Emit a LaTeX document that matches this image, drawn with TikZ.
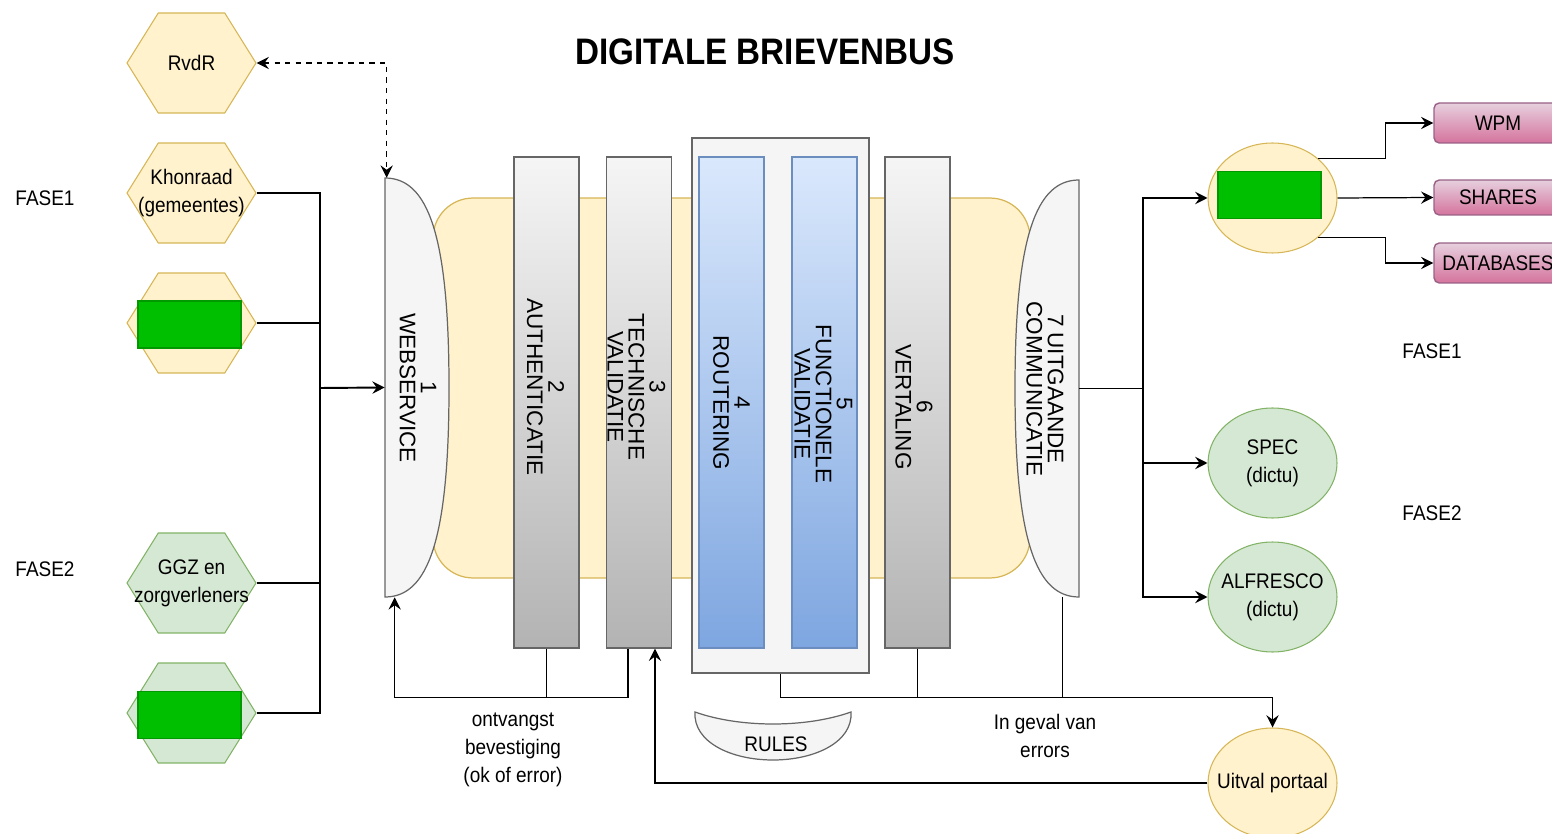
\documentclass[tikz,border=0pt]{standalone}
\usepackage{fontspec}
\setmainfont{Liberation Sans}[FakeStretch=0.9]
\newfontfamily\rotfont{Liberation Sans}
\usetikzlibrary{arrows.meta,shapes.geometric,shapes.symbols}

\newcommand{\normtext}{\fontsize{12}{16}\selectfont}
\newcommand{\coltext}{\rotfont\fontsize{12.8}{12}\selectfont}

\definecolor{yelfill}{HTML}{FFF2CC}
\definecolor{yeldraw}{HTML}{D6B656}
\definecolor{grnfill}{HTML}{D5E8D4}
\definecolor{grndraw}{HTML}{82B366}
\definecolor{gryfill}{HTML}{F5F5F5}
\definecolor{grydark}{HTML}{B3B3B3}
\definecolor{grydraw}{HTML}{666666}
\definecolor{blutop}{HTML}{DAE8FC}
\definecolor{blubot}{HTML}{7EA6E0}
\definecolor{bludraw}{HTML}{6C8EBF}
\definecolor{pnktop}{HTML}{E6D0DE}
\definecolor{pnkbot}{HTML}{D5739D}
\definecolor{pnkdraw}{HTML}{996185}
\definecolor{okgreen}{HTML}{00BF00}
\definecolor{okdraw}{HTML}{009900}

\tikzset{hexnode/.style = {shape = signal,
                           signal to = east and west,
                           signal pointer angle = 116,
                           minimum width = 2.58cm,
                           minimum height = 2cm,
                           inner sep = 0pt,
                           line width = 0.6pt},
         hexyel/.style = {hexnode, fill = yelfill, draw = yeldraw},
         hexgrn/.style = {hexnode, fill = grnfill, draw = grndraw},
         inside/.style = {label = {[plain]center:#1}},
         okrect/.style = {rectangle,
                          fill = okgreen,
                          draw = okdraw,
                          minimum width = 2.06cm,
                          minimum height = 0.94cm,
                          line width = 0.8pt},
         colbox/.style = {rectangle,
                          draw = grydraw,
                          top color = gryfill,
                          bottom color = grydark,
                          minimum width = 1.3cm,
                          minimum height = 9.82cm,
                          line width = 0.8pt},
         blubox/.style = {colbox, draw = bludraw, top color = blutop, bottom color = blubot},
         rottext/.style = {rotate = -90,
                           align = center,
                           inner sep = 0pt,
                           font = \coltext},
         oval/.style = {ellipse,
                        minimum width = 2.58cm,
                        minimum height = 2.2cm,
                        inner sep = 0pt,
                        line width = 0.6pt},
         pinkbox/.style = {rectangle,
                           rounded corners = 3pt,
                           draw = pnkdraw,
                           top color = pnktop,
                           bottom color = pnkbot,
                           minimum width = 2.56cm,
                           minimum height = 0.8cm,
                           font = \normtext,
                           line width = 0.8pt},
         plain/.style = {align = center, font = \normtext, inner sep = 0pt},
         line/.style = {draw, line width = 0.7pt},
         arr/.style = {line, -{Stealth[length = 7pt, width = 7pt, inset = 2.5pt]}}}

\begin{document}
\begin{tikzpicture}[x = 0.02cm, y = -0.02cm]
  \useasboundingbox (0,0) rectangle (1552,834);
  \clip (0,0) rectangle (1552,834);

  \node[font = \fontsize{21}{25}\selectfont\bfseries] (title) at (765,52) {DIGITALE BRIEVENBUS};

  % senders
  \node[plain] (fase1l) at (45,198) {FASE1};
  \node[plain] (fase2l) at (45,569) {FASE2};
  \node[hexyel, inside = RvdR] (rvdr) at (191.5,63) {};
  \node[hexyel, inside = {Khonraad\\(gemeentes)}] (khon) at (191.5,193) {};
  \node[hexyel] (hex1) at (191.5,323) {};
  \node[okrect] (ok1) at (189.5,324.5) {};
  \node[hexgrn, inside = {GGZ en\\zorgverleners}] (ggz) at (191.5,583) {};
  \node[hexgrn] (hex2) at (191.5,713) {};
  \node[okrect] (ok2) at (189.5,715) {};

  % core
  \node[rectangle, rounded corners = 0.8cm, fill = yelfill, draw = yeldraw,
        minimum width = 11.94cm, minimum height = 7.6cm, line width = 0.7pt] (core) at (731.5,388) {};
  \node[inner sep = 0pt, minimum width = 1.28cm, minimum height = 8.38cm] (ws) at (417,387.5) {};
  \draw[fill = gryfill, draw = grydraw, line width = 0.7pt]
    (385,178) .. controls (428,178) and (449,235) .. (449,387.5)
              .. controls (449,540) and (428,597) .. (385,597) -- cycle;
  \node[inner sep = 0pt, minimum width = 1.28cm, minimum height = 8.34cm] (uo) at (1047,388.5) {};
  \draw[fill = gryfill, draw = grydraw, line width = 0.7pt]
    (1079,180) .. controls (1036,180) and (1015,237) .. (1015,388.5)
               .. controls (1015,540) and (1036,597) .. (1079,597) -- cycle;
  \node[colbox] (c2) at (546.5,402.5) {};
  \node[colbox] (c3) at (639,402.5) {};
  \node[rectangle, fill = gryfill, draw = grydraw, line width = 0.8pt,
        minimum width = 3.54cm, minimum height = 10.7cm] (box45) at (780.5,405.5) {};
  \node[blubox] (c4) at (731.5,402.5) {};
  \node[blubox] (c5) at (824.5,402.5) {};
  \node[colbox] (c6) at (917.5,402.5) {};

  \node[rottext] (t1) at (418,388) {1\\WEBSERVICE};
  \node[rottext] (t2) at (545.5,387) {2\\AUTHENTICATIE};
  \node[rottext] (t3) at (636.5,387) {3\\TECHNISCHE\\VALIDATIE};
  \node[rottext] (t4) at (731.5,403) {4\\ROUTERING};
  \node[rottext] (t5) at (823.5,404) {5\\FUNCTIONELE\\VALIDATIE};
  \node[rottext] (t6) at (914,407) {6\\VERTALING};
  \node[rottext] (t7) at (1045,389) {7 UITGAANDE\\COMMUNICATIE};

  % rules
  \draw[fill = gryfill, draw = grydraw, line width = 0.7pt]
    (695,712) .. controls (740,728) and (806,728) .. (851,712)
              .. controls (853,742) and (815,760) .. (773,760)
              .. controls (731,760) and (693,742) .. (695,712) -- cycle;
  \node[plain] (rules) at (776,744) {RULES};

  % receivers
  \node[oval, fill = yelfill, draw = yeldraw] (hub) at (1272.5,198) {};
  \node[okrect] (ok3) at (1269.5,195) {};
  \node[oval, fill = grnfill, draw = grndraw, inside = {SPEC\\(dictu)}] (spec) at (1272.5,463) {};
  \node[oval, fill = grnfill, draw = grndraw, inside = {ALFRESCO\\(dictu)}] (alf) at (1272.5,597) {};
  \node[oval, fill = yelfill, draw = yeldraw, inside = {Uitval portaal}] (uitval) at (1272.5,783) {};
  \node[pinkbox] (wpm) at (1498,123) {WPM};
  \node[pinkbox, minimum height = 0.7cm] (shares) at (1498,197.5) {SHARES};
  \node[pinkbox] (dbs) at (1498,263) {DATABASES};
  \node[plain] (fase1r) at (1432,351) {FASE1};
  \node[plain] (fase2r) at (1432,513) {FASE2};

  \node[plain] (acklbl) at (513,750) {ontvangst\\bevestiging\\(ok of error)};
  \node[plain] (errlbl) at (1045,736) {In geval van\\errors};

  % connectors left
  \coordinate (lbus) at (320,388);
  \draw[line] (khon.east) -| (lbus);
  \draw[line] (hex1.east) -| (lbus);
  \draw[line] (ggz.east) -| (lbus);
  \draw[line] (hex2.east) -| (lbus);
  \draw[arr, line width = 1.1pt] (lbus) -- (ws.west);
  \draw[line, dashed, {Stealth[length = 7pt, width = 7pt, inset = 2.5pt]}-{Stealth[length = 7pt, width = 7pt, inset = 2.5pt]}]
    (rvdr.east) -| ([xshift = 0.04cm]ws.north west);

  % connectors bottom
  \draw[line] (c2.south) -- ++(0,49);
  \draw[arr] ([xshift = -0.22cm]c3.south) -- ++(0,49) -| ([xshift = 0.2cm]ws.south west);
  \draw[arr] (uitval.west) -| ([xshift = 0.32cm]c3.south);
  \draw[line] (c6.south) -- ++(0,49);
  \draw[line] ([xshift = -0.34cm]uo.south east) -- ++(0,100);
  \draw[arr] (box45.south) -- ++(0,24) -| (uitval.north);

  % connectors right
  \draw[line, line width = 1.1pt] (uo.east) -- ++(64,0) coordinate (rbus);
  \draw[arr, line width = 1.1pt] (rbus) |- (hub.west);
  \draw[arr, line width = 1.1pt] (rbus) |- (spec.west);
  \draw[arr, line width = 1.1pt] (rbus) |- (alf.west);
  \draw[arr] (hub.north east) -- ++(67,0) |- (wpm.west);
  \draw[arr] (hub.east) -- (shares.west);
  \draw[arr] (hub.south east) -- ++(67,0) |- (dbs.west);
\end{tikzpicture}
\end{document}
